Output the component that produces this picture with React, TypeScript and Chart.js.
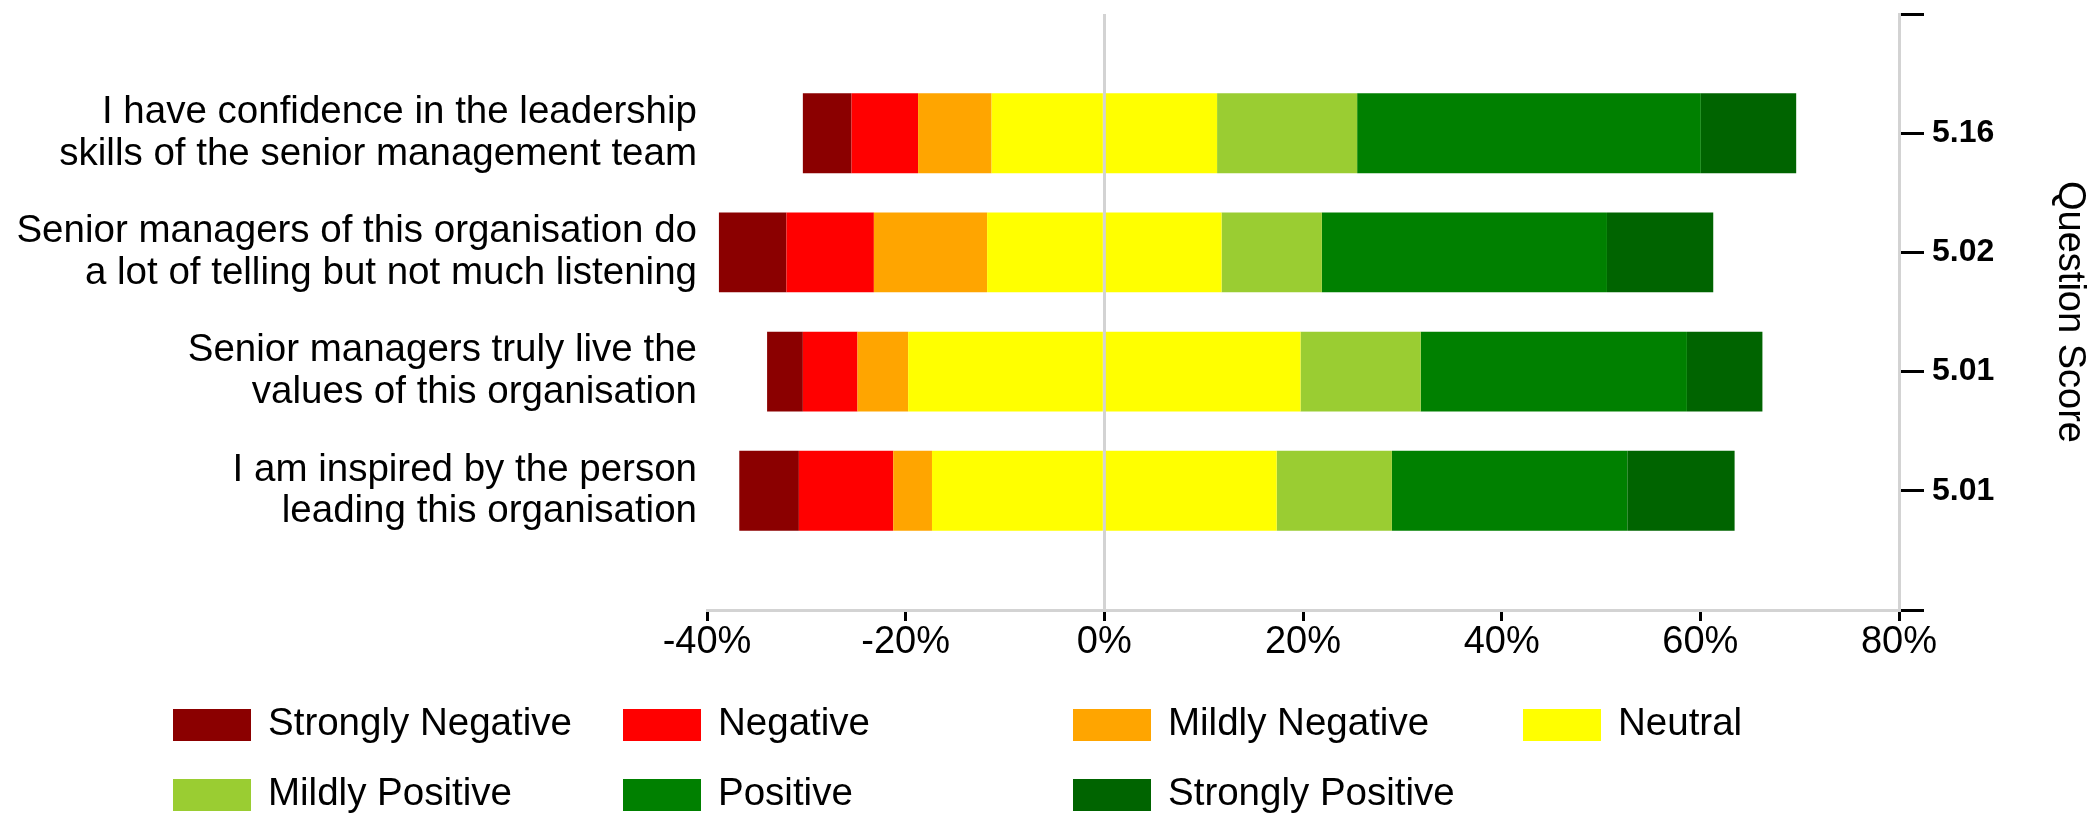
import { useEffect, useRef } from "react";
import { Chart, registerables } from "chart.js";

Chart.register(...registerables);

// Survey questions (two-line labels) and their question scores
const questions: string[][] = [
  ["I have confidence in the leadership", "skills of the senior management team"],
  ["Senior managers of this organisation do", "a lot of telling but not much listening"],
  ["Senior managers truly live the", "values of this organisation"],
  ["I am inspired by the person", "leading this organisation"],
];
const questionScores = ["5.16", "5.02", "5.01", "5.01"];

// Share of responses per answer category (%)
const stronglyNegative = [4.9, 6.8, 3.6, 6.0];
const negative = [6.7, 8.8, 5.5, 9.5];
const mildlyNegative = [7.4, 11.4, 5.1, 3.9];
const neutral = [22.7, 23.6, 39.5, 34.7];
const mildlyPositive = [14.1, 10.1, 12.1, 11.6];
const positive = [34.6, 28.7, 26.8, 23.7];
const stronglyPositive = [9.6, 10.7, 7.6, 10.8];

const xMin = -40;
const xMax = 80;
const xStep = 20;

const COLORS = {
  stronglyNegative: "#8B0000",
  negative: "#FF0000",
  mildlyNegative: "#FFA500",
  neutral: "#FFFF00",
  mildlyPositive: "#9ACD32",
  positive: "#008000",
  stronglyPositive: "#006400",
};

const legendItems = [
  { label: "Strongly Negative", color: COLORS.stronglyNegative },
  { label: "Negative", color: COLORS.negative },
  { label: "Mildly Negative", color: COLORS.mildlyNegative },
  { label: "Neutral", color: COLORS.neutral },
  { label: "Mildly Positive", color: COLORS.mildlyPositive },
  { label: "Positive", color: COLORS.positive },
  { label: "Strongly Positive", color: COLORS.stronglyPositive },
];

const FONT = '"Liberation Sans", Arial, Helvetica, sans-serif';
const AXIS_GRAY = "#d3d3d3";

// an empty slot above and below the questions keeps a margin band on the axis
const pad = <T,>(arr: T[], fill: T): T[] => [fill, ...arr, fill];
const negate = (arr: number[]) => arr.map((v) => -v);
const half = (arr: number[]) => arr.map((v) => v / 2);

// Legend laid out as a fixed grid of four columns
const gridLegend = {
  id: "gridLegend",
  afterDraw(chart: Chart) {
    const { ctx } = chart;
    ctx.save();
    ctx.font = `38.5px ${FONT}`;
    ctx.textBaseline = "middle";
    ctx.textAlign = "left";
    legendItems.forEach((item, i) => {
      const col = i % 4;
      const row = Math.floor(i / 4);
      const x = 173 + col * 450;
      const y = 725 + row * 70;
      ctx.fillStyle = item.color;
      ctx.fillRect(x, y - 16, 78, 32);
      ctx.fillStyle = "#000";
      ctx.fillText(item.label, x + 95, y - 1);
    });
    ctx.restore();
  },
};

export default function App() {
  const canvasRef = useRef<HTMLCanvasElement | null>(null);

  useEffect(() => {
    if (!canvasRef.current) return;

    const neutralHalf = half(neutral);
    const bar = (label: string, data: number[], color: string) => ({
      label,
      data: pad<number | null>(data, null),
      backgroundColor: color,
      borderWidth: 0,
      yAxisID: "y",
    });

    const chart = new Chart(canvasRef.current, {
      type: "bar",
      data: {
        labels: pad<string | string[]>(questions, ""),
        datasets: [
          // left side stacks outwards from zero
          bar("Neutral", negate(neutralHalf), COLORS.neutral),
          bar("Mildly Negative", negate(mildlyNegative), COLORS.mildlyNegative),
          bar("Negative", negate(negative), COLORS.negative),
          bar("Strongly Negative", negate(stronglyNegative), COLORS.stronglyNegative),
          // right side
          bar("Neutral", neutralHalf, COLORS.neutral),
          bar("Mildly Positive", mildlyPositive, COLORS.mildlyPositive),
          bar("Positive", positive, COLORS.positive),
          bar("Strongly Positive", stronglyPositive, COLORS.stronglyPositive),
        ],
      },
      options: {
        indexAxis: "y",
        responsive: false,
        animation: false,
        layout: { autoPadding: false, padding: { top: 14, left: 0, right: 0, bottom: 0 } },
        datasets: { bar: { barPercentage: 0.67, categoryPercentage: 1 } },
        plugins: { legend: { display: false }, tooltip: { enabled: false } },
        scales: {
          x: {
            type: "linear",
            stacked: true,
            min: xMin,
            max: xMax,
            afterFit: (scale: any) => {
              scale.height = 206;
            },
            ticks: {
              stepSize: xStep,
              color: "#000",
              font: { family: FONT, size: 38, lineHeight: 1 },
              padding: 3,
              callback: (v: any) => `${v}%`,
            },
            grid: {
              color: (c: any) => (c.tick && c.tick.value === 0 ? AXIS_GRAY : "rgba(0,0,0,0)"),
              lineWidth: 3,
              tickColor: "#000",
              tickWidth: 3,
              tickLength: 11,
            },
            border: { display: true, color: AXIS_GRAY, width: 3 },
          },
          y: {
            type: "category",
            stacked: true,
            offset: false,
            position: "left",
            afterFit: (scale: any) => {
              scale.width = 707;
              scale.paddingTop = 0;
              scale.paddingBottom = 0;
            },
            ticks: {
              color: "#000",
              font: { family: FONT, size: 38.5, lineHeight: 1.08 },
              padding: 10,
              autoSkip: false,
            },
            grid: { display: false, drawTicks: false, offset: false },
            border: { display: false },
          },
          y2: {
            type: "category",
            labels: pad<string>(questionScores, ""),
            offset: false,
            position: "right",
            afterFit: (scale: any) => {
              scale.width = 197;
              scale.paddingTop = 0;
              scale.paddingBottom = 0;
            },
            ticks: {
              color: "#000",
              font: { family: FONT, size: 32, weight: "bold" },
              padding: 8,
              autoSkip: false,
            },
            grid: {
              drawOnChartArea: false,
              offset: false,
              color: "#000",
              tickColor: "#000",
              tickWidth: 3,
              tickLength: 25,
            },
            border: { display: true, color: AXIS_GRAY, width: 3 },
            title: {
              display: true,
              text: "Question Score",
              color: "#000",
              font: { family: FONT, size: 38 },
              padding: { top: 4, bottom: 0 },
            },
          },
        },
      },
      plugins: [gridLegend],
    } as any);

    return () => chart.destroy();
  }, []);

  return (
    <div style={{ position: "fixed", left: 0, top: 0, width: 2096, height: 816, background: "#fff" }}>
      <canvas ref={canvasRef} width={2096} height={816} style={{ display: "block" }} />
    </div>
  );
}
